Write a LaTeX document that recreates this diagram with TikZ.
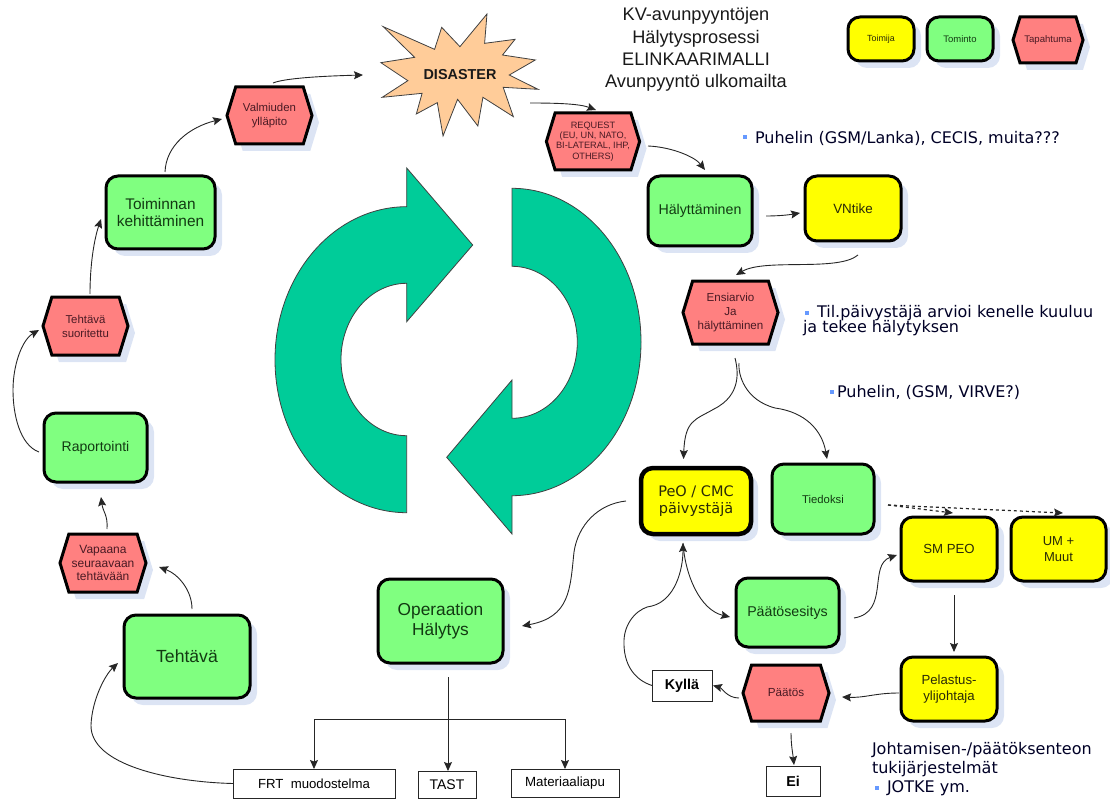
\documentclass[tikz,border=0pt]{standalone}
\usepackage{fontspec}
\setmainfont{Liberation Sans}
\newfontfamily\tahomalike{DejaVu Sans}
\usetikzlibrary{arrows.meta,calc,shadows,shapes.symbols}
\definecolor{shadowcol}{HTML}{DCE4F4}
\definecolor{greenbox}{HTML}{80FF80}
\definecolor{yellowbox}{HTML}{FFFF00}
\definecolor{redbox}{HTML}{FF8080}
\definecolor{cyclegreen}{HTML}{00CC99}
\definecolor{starfill}{HTML}{FFCC99}
\definecolor{bulletblue}{HTML}{6699FF}
\definecolor{inkgreen}{HTML}{123A12}
\definecolor{inkred}{HTML}{4A1A24}
\definecolor{inkyellow}{HTML}{2A2A08}
\newcommand{\fs}[1]{\fontsize{#1}{#1}\selectfont}
\tikzset{
  x=1pt,y=-1pt,
  boxbase/.style={draw=black,line width=3pt,outer sep=0pt,inner sep=1pt,align=center,text=inkgreen,
     drop shadow={shadow xshift=7pt,shadow yshift=-7pt,opacity=1,fill=shadowcol}},
  greenbx/.style={boxbase,rounded corners=12pt,fill=greenbox},
  yellowbx/.style={boxbase,rounded corners=12pt,fill=yellowbox,text=inkyellow},
  hexbx/.style={boxbase,fill=redbox,signal,signal to=east and west,signal pointer angle=146,text=inkred},
  plainbx/.style={draw=black!85,line width=0.9pt,fill=white,outer sep=0pt,inner sep=1pt,align=center,text=black},
  conn/.style={draw=black!85,line width=0.9pt,-{Stealth[length=9pt,width=8pt,inset=1.5pt]}},
  note/.style={anchor=west,inner sep=0pt,outer sep=0pt,text=black!85!blue,font=\tahomalike\fs{16}},
  titletext/.style={inner sep=0pt,outer sep=0pt,align=center,text=black!90,font=\fs{18.2}},
  bulletmark/.style={fill=bulletblue,draw=none,minimum size=4.5pt,inner sep=0pt,outer sep=0pt},
  cycle arrow/.style={fill=cyclegreen,draw=black!75,line width=0.8pt},
}
\begin{document}
\begin{tikzpicture}
\useasboundingbox (0,0) rectangle (1110,802);

% big cycle arrows
\draw[cycle arrow] (406.7,206.7) arc[start angle=90,end angle=270,x radius=131.7pt,y radius=153pt]
  -- (406.7,435.7) arc[start angle=270,end angle=90,x radius=65.7pt,y radius=76.2pt]
  -- (406.7,321.7) -- (472.7,245) -- (406.7,168) -- cycle;
\draw[cycle arrow] (512,188.3) arc[start angle=90,end angle=-90,x radius=129pt,y radius=153.7pt]
  -- (512,534) -- (446.7,457.3) -- (512,380) -- (512,418.3)
  arc[start angle=-90,end angle=90,x radius=65.3pt,y radius=76pt] -- cycle;

% disaster star
\begin{scope}[shift={(30,0)},xscale=0.338,yscale=0.3333]
\draw[fill=starfill,draw=black!75,line width=0.8pt] (1045,80)--(1197,148)--(1218,82)--(1272,140)--(1352,42)--(1345,130)--(1435,118)--(1398,165)--(1495,180)--(1418,225)--(1503,268)--(1400,262)--(1430,350)--(1340,292)--(1325,378)--(1265,298)--(1222,408)--(1205,308)--(1143,342)--(1160,280)--(1042,292)--(1118,242)--(1038,188)--(1138,172)--cycle;
\end{scope}
\node[inner sep=0pt,outer sep=0pt,font=\bfseries\fs{14.4},text=black!90] (dis) at (460,75) {DISASTER};

% title
\node[titletext] (title) at (696,49.5) {KV-avunpyyntöjen\\[4pt]Hälytysprosessi\\[4pt]ELINKAARIMALLI\\[4pt]Avunpyyntö ulkomailta};

% legend
\node[yellowbx,minimum width=66pt,minimum height=44pt,font=\fs{8.9}] (lega) at (881,39) {Toimija};
\node[greenbx,minimum width=66pt,minimum height=44pt,font=\fs{9.5}] (legb) at (960,39) {Tominto};
\node[hexbx,minimum width=70pt,minimum height=46pt,font=\fs{9.6}] (legc) at (1048,40) {Tapahtuma};

% nodes
\node[hexbx,minimum width=86pt,minimum height=57pt,font=\fs{9.2}] (req) at (593,141.5) {REQUEST\\[1.2pt](EU, UN, NATO,\\[1.2pt]BI-LATERAL, IHP,\\[1.2pt]OTHERS)};
\node[greenbx,minimum width=104pt,minimum height=70pt,font=\fs{14.2}] (hal) at (700,211) {Hälyttäminen};
\node[yellowbx,minimum width=96pt,minimum height=65pt,font=\fs{13.4}] (vnt) at (853,208.5) {VNtike};
\node[hexbx,minimum width=95pt,minimum height=63pt,font=\fs{11.6}] (ens) at (730.5,312.5) {Ensiarvio\\[2pt]Ja\\[2pt]hälyttäminen};
\node[yellowbx,line width=4.5pt,minimum width=110pt,minimum height=66pt,font=\tahomalike\fs{14.5}] (peo) at (696,501) {PeO / CMC\\[2.8pt]päivystäjä};
\node[greenbx,minimum width=102pt,minimum height=70pt,font=\fs{11.3}] (tie) at (823,499) {Tiedoksi};
\node[yellowbx,minimum width=96pt,minimum height=64pt,font=\fs{13.2}] (sm) at (949,549) {SM PEO};
\node[yellowbx,minimum width=95pt,minimum height=64pt,font=\fs{13}] (um) at (1058.5,549) {UM +\\[3pt]Muut};
\node[greenbx,minimum width=103pt,minimum height=69pt,font=\fs{14.2}] (pae) at (787.5,612.5) {Päätösesitys};
\node[yellowbx,minimum width=96pt,minimum height=64pt,font=\fs{13.2}] (pel) at (949,689) {Pelastus-\\[2.8pt]ylijohtaja};
\node[hexbx,minimum width=86pt,minimum height=56pt,font=\fs{11.7}] (pat) at (786,693) {Päätös};
\node[plainbx,minimum width=60pt,minimum height=31pt,font=\bfseries\fs{14.3}] (kyl) at (682,685.5) {Kyllä};
\node[plainbx,minimum width=54pt,minimum height=30pt,font=\bfseries\fs{14.3}] (ei) at (793,781) {Ei};
\node[hexbx,minimum width=86pt,minimum height=58pt,font=\fs{12}] (vap) at (103,563) {Vapaana\\[1.7pt]seuraavaan\\[1.7pt]tehtävään};
\node[greenbx,minimum width=126pt,minimum height=83pt,font=\fs{17.6}] (teh) at (187,656.5) {Tehtävä};
\node[greenbx,minimum width=125pt,minimum height=84pt,font=\fs{17.3}] (ope) at (440.5,621) {Operaation\\[3.4pt]Hälytys};
\node[plainbx,minimum width=162pt,minimum height=29pt,font=\fs{13.2}] (frt) at (314,783.5) {FRT\ \ muodostelma};
\node[plainbx,minimum width=58pt,minimum height=27pt,font=\fs{14}] (tast) at (447,784.5) {TAST};
\node[plainbx,minimum width=108pt,minimum height=28pt,font=\fs{13.3}] (mat) at (565,783) {Materiaaliapu};
\node[hexbx,minimum width=85pt,minimum height=57pt,font=\fs{11.4}] (val) at (269.5,115.5) {Valmiuden\\[2.6pt]ylläpito};
\node[greenbx,minimum width=109pt,minimum height=73pt,font=\fs{15.4}] (toi) at (160.5,212.5) {Toiminnan\\[2.3pt]kehittäminen};
\node[hexbx,minimum width=85pt,minimum height=58pt,font=\fs{11.4}] (suo) at (85.5,326) {Tehtävä\\[2.6pt]suoritettu};
\node[greenbx,minimum width=103pt,minimum height=69pt,font=\fs{14}] (rap) at (95.5,447.5) {Raportointi};

% notes
\node[bulletmark] (b1) at (745,137) {};
\node[note] (n1) at (755,138) {Puhelin (GSM/Lanka), CECIS, muita???};
\node[bulletmark] (b2) at (807,313) {};
\node[note] (n2) at (817,313) {Til.päivystäjä arvioi kenelle kuuluu};
\node[note] (n3) at (803,328) {ja tekee hälytyksen};
\node[bulletmark] (b3) at (832,392) {};
\node[note] (n4) at (837,392) {Puhelin, (GSM, VIRVE?)};
\node[note] (n5) at (872,750) {Johtamisen-/päätöksenteon};
\node[note] (n6) at (872,769) {tukijärjestelmät};
\node[bulletmark] (b4) at (877,788) {};
\node[note] (n7) at (887,788) {JOTKE ym.};

% connectors
\draw[conn] ($(teh)+(5,-47.5)$) .. controls (192,590) and (178,574) .. ($(vap)+(56,4)$);
\draw[conn] ($(vap)+(4,-34)$) .. controls (108,515) and (103,512) .. ($(rap)+(5.5,49.5)$);
\draw[conn] ($(rap)+(-56.5,4.5)$) .. controls (20,445) and (13,415) .. (13,390) .. controls (13,365) and (22,340) .. ($(suo)+(-46.5,4)$);
\draw[conn] ($(suo)+(4.5,-32)$) .. controls (90,265) and (94,240) .. ($(toi)+(-59.5,6.5)$);
\draw[conn] ($(toi)+(4.5,-40.5)$) .. controls (166,145) and (190,127) .. ($(val)+(-47.5,3.5)$);
\draw[conn] ($(val)+(3.5,-32.5)$) .. controls (285,78) and (325,76) .. ($(dis)+(-97,0)$);
\draw[conn] ($(dis)+(70,28)$) .. controls (560,103) and (580,104) .. ($(req)+(3,-31.5)$);
\draw[conn] ($(req)+(55,4.5)$) .. controls (672,147) and (695,157) .. ($(hal)+(5,-41)$);
\draw[conn] ($(hal)+(66,5)$) .. controls (778,216) and (788,215) .. ($(vnt)+(-53,4.5)$);
\draw[conn] ($(vnt)+(5,46.5)$) .. controls (838,272) and (765,258) .. ($(ens)+(5.5,-37.5)$);
\draw[conn] ($(ens)+(4.5,45.5)$) .. controls (738,370) and (742,395) .. (714,409) .. controls (695,420) and (685,420) .. ($(peo)+(-12.5,-42)$);
\draw[conn] ($(ens)+(8.5,50.5)$) .. controls (738,375) and (745,400) .. (775,408) .. controls (805,412) and (822,430) .. ($(tie)+(4,-40)$);
\draw[conn] ($(peo)+(-70,0)$) .. controls (598,504) and (578,525) .. (574,552) .. controls (570,590) and (570,617) .. ($(ope)+(81.5,5)$);
\coordinate (junc) at (448,719);
\draw[conn] ($(ope)+(7.5,56)$) -- (tast.north-|junc);
\draw[conn] (junc) -| (frt.north);
\draw[conn] (junc) -| (mat.north);
\draw[conn] (frt.west) .. controls (170,782) and (90,765) .. (91,725) .. controls (92,700) and (105,675) .. ($(teh)+(-69,6.5)$);
\draw[conn,dashed,line width=1.2pt] ($(tie)+(65,6)$) -- ($(sm)+(4,-36)$);
\draw[conn,dashed,line width=1.2pt] ($(tie)+(65,6)$) -- ($(um)+(4.5,-36)$);
\draw[conn] ($(pae)+(66.5,5.5)$) .. controls (890,612) and (868,565) .. ($(sm)+(-52,6)$);
\draw[conn] ($(sm)+(5,46)$) -- ($(pel)+(5,-37)$);
\draw[conn] ($(pel)+(-50,4)$) .. controls (875,693) and (865,698) .. ($(pat)+(56,4)$);
\draw[conn] ($(pat)+(-47,5)$) .. controls (727,698) and (722,688) .. ($(kyl)+(31,0)$);
\draw[conn] ($(pat)+(5,40)$) .. controls (791,745) and (793,755) .. ($(ei)+(1,-16)$);
\draw[conn] (kyl.west) .. controls (635,680) and (623,665) .. (624,640) .. controls (625,620) and (640,607) .. (652,606) .. controls (675,600) and (683,570) .. ($(peo)+(-13,42)$);
\draw[conn] ($(peo)+(-13,42)$) .. controls (685,575) and (700,610) .. ($(pae)+(-57.5,4.5)$);
\end{tikzpicture}
\end{document}
